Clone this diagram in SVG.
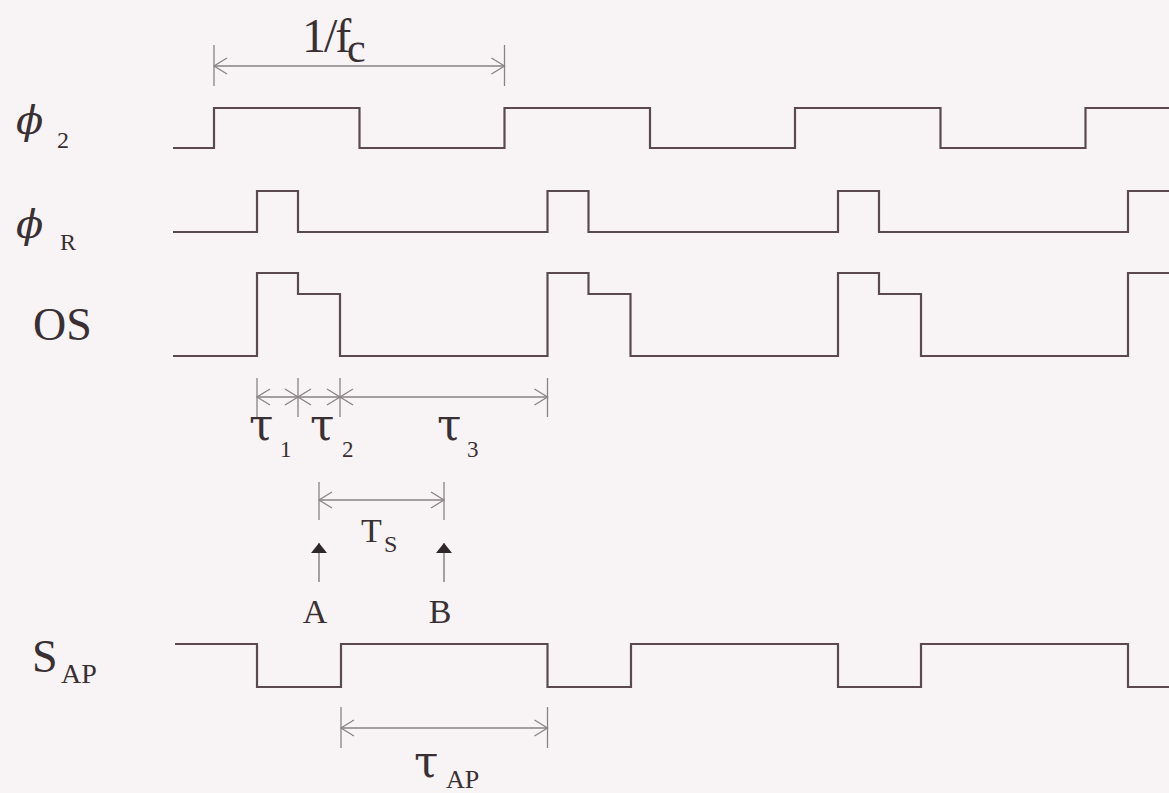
<svg xmlns="http://www.w3.org/2000/svg" width="1169" height="793" viewBox="0 0 1169 793">
<defs>
<style>
.wave{fill:none;stroke:#5a4a4e;stroke-width:2.2;stroke-linejoin:miter}
.dim{fill:none;stroke:#8a8285;stroke-width:1.3}
.tick{fill:none;stroke:#8a8285;stroke-width:1.3}
.lbl{font-family:"Liberation Serif","DejaVu Serif",serif;fill:#3a3033}
.gk{font-family:"DejaVu Serif","Liberation Serif",serif;fill:#3a3033}
.ph{font-family:"DejaVu Serif","Liberation Serif",serif;fill:#3a3033;font-style:italic}
.ptr{fill:none;stroke:#7a7275;stroke-width:1.3}
</style>
<marker id="open" viewBox="-14 -9 15 18" refX="0" refY="0" markerWidth="15" markerHeight="18" markerUnits="userSpaceOnUse" orient="auto-start-reverse" overflow="visible">
<path d="M-13,-8 L0,0 L-13,8" fill="none" stroke="#8a8285" stroke-width="1.3"/>
</marker>
<marker id="solid" viewBox="-11 -9 12 18" refX="0" refY="0" markerWidth="12" markerHeight="18" markerUnits="userSpaceOnUse" orient="auto" overflow="visible">
<path d="M-10,-8 L0,0 L-10,8 Z" fill="#2e2628"/>
</marker>
</defs>
<rect x="0" y="0" width="1169" height="793" fill="#f8f4f5"/>

<g id="label-phi2"><text class="ph" x="16" y="134" font-size="40">ϕ</text><text class="lbl" x="57" y="148" font-size="24">2</text></g>
<g id="label-phiR"><text class="ph" x="16" y="238" font-size="40">ϕ</text><text class="lbl" x="60" y="250" font-size="24">R</text></g>
<g id="label-OS"><text class="lbl" x="33" y="340" font-size="46">OS</text></g>
<g id="label-SAP"><text class="lbl" x="32" y="672" font-size="46">S</text><text class="lbl" x="61" y="683" font-size="28">AP</text></g>

<g id="wave-phi2"><path class="wave" d="M173,148 H214 V108 H359.5 V148 H504.5 V108 H650 V148 H795 V108 H940.5 V148 H1085.5 V108 H1169"/></g>
<g id="wave-phiR"><path class="wave" d="M173,232 H257 V191 H298 V232 H547.5 V191 H588.5 V232 H838 V191 H879 V232 H1128 V191 H1169"/></g>
<g id="wave-OS"><path class="wave" d="M173,356 H257 V273 H298 V294 H340 V356 H547.5 V273 H588.5 V294 H630.5 V356 H838 V273 H879 V294 H921 V356 H1128 V273 H1169"/></g>
<g id="wave-SAP"><path class="wave" d="M175,644 H257 V687 H341 V644 H547.5 V687 H631 V644 H838 V687 H921 V644 H1128 V687 H1169"/></g>

<g id="connectors">
<path class="tick" d="M214,45 V86 M504.5,45 V86"/>
<line class="dim" x1="214" y1="66" x2="504.5" y2="66" marker-start="url(#open)" marker-end="url(#open)"/>
<path class="tick" d="M257,378 V417 M298,378 V417 M340,378 V417 M547.5,378 V417"/>
<line class="dim" x1="257" y1="397" x2="298" y2="397" marker-start="url(#open)" marker-end="url(#open)"/>
<line class="dim" x1="298" y1="397" x2="340" y2="397" marker-start="url(#open)" marker-end="url(#open)"/>
<line class="dim" x1="340" y1="397" x2="547.5" y2="397" marker-start="url(#open)" marker-end="url(#open)"/>
<path class="tick" d="M319,482 V520 M444,482 V520"/>
<line class="dim" x1="319" y1="500" x2="444" y2="500" marker-start="url(#open)" marker-end="url(#open)"/>
<line class="ptr" x1="319" y1="582" x2="319" y2="543" marker-end="url(#solid)"/>
<line class="ptr" x1="444" y1="582" x2="444" y2="543" marker-end="url(#solid)"/>
<path class="tick" d="M341,707 V748 M547.5,707 V748"/>
<line class="dim" x1="341" y1="728" x2="547.5" y2="728" marker-start="url(#open)" marker-end="url(#open)"/>
</g>

<g id="label-fc"><text class="lbl" x="302" y="52" font-size="48" letter-spacing="-2">1/f</text><text class="lbl" x="347" y="62" font-size="42">c</text></g>
<g id="label-tau1"><text class="gk" x="249" y="440" font-size="44">τ</text><text class="lbl" x="280" y="457" font-size="23">1</text></g>
<g id="label-tau2"><text class="gk" x="310" y="440" font-size="44">τ</text><text class="lbl" x="342" y="457" font-size="23">2</text></g>
<g id="label-tau3"><text class="gk" x="437" y="440" font-size="44">τ</text><text class="lbl" x="467" y="457" font-size="23">3</text></g>
<g id="label-Ts"><text class="lbl" x="361" y="542" font-size="34">T</text><text class="lbl" x="384" y="552" font-size="24">S</text></g>
<g id="label-A"><text class="lbl" x="315" y="623" font-size="34" text-anchor="middle">A</text></g>
<g id="label-B"><text class="lbl" x="440" y="623" font-size="34" text-anchor="middle">B</text></g>
<g id="label-tauAP"><text class="gk" x="414" y="777" font-size="44">τ</text><text class="lbl" x="446" y="788" font-size="26">AP</text></g>
</svg>
